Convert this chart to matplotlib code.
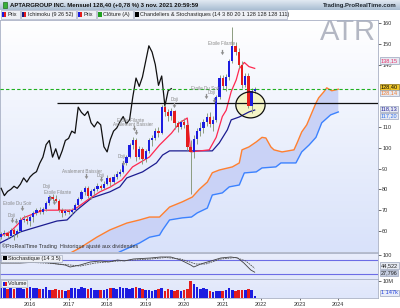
import numpy as np
import matplotlib
matplotlib.use("Agg")
import matplotlib.pyplot as plt
from matplotlib.patches import Ellipse, Rectangle
from matplotlib.colors import LinearSegmentedColormap
from matplotlib.transforms import blended_transform_factory

plt.rcParams['font.family'] = ['Liberation Sans', 'DejaVu Sans']

W, H = 400, 308

# monthly candles, Apr 2015 -> Nov 2021 (prices adjusted for dividends)
start = 2015.25
opens = [57.0, 58.5, 59.0, 57.5, 60.5, 58.5, 60.0, 65.5, 66.0,
         65.0, 66.5, 68.5, 70.0, 69.0, 70.5, 73.5, 76.5, 75.5, 74.5, 70.0, 68.5,
         69.5, 69.0, 70.0, 72.5, 75.5, 78.5, 80.5, 77.0, 79.0, 80.0, 81.5, 80.5,
         82.5, 85.5, 83.5, 86.0, 87.5, 88.5, 92.5, 95.5, 101.5, 103.5, 95.5, 99.5,
         94.5, 98.5, 103.5, 104.5, 108.0, 107.0, 119.5, 117.0, 115.5, 117.5, 112.0, 110.0,
         112.5, 111.0, 100.5, 98.0, 104.0, 108.0, 109.5, 112.5, 115.0, 111.5, 113.5, 124.5,
         133.5, 129.5, 134.0, 141.5, 149.0, 146.0, 140.0, 130.0, 134.5, 120.0, 127.4]
closes = [58.5, 59.0, 57.5, 60.5, 58.5, 60.0, 65.5, 66.0, 65.0,
          66.5, 68.5, 70.0, 69.0, 70.5, 73.5, 76.5, 75.5, 74.5, 70.0, 68.5, 69.5,
          69.0, 70.0, 72.5, 75.5, 78.5, 80.5, 77.0, 79.0, 80.0, 81.5, 80.5, 82.5,
          85.5, 83.5, 86.0, 87.5, 88.5, 92.5, 95.5, 101.5, 103.5, 95.5, 99.5, 94.5,
          98.5, 103.5, 104.5, 108.0, 107.0, 119.5, 117.0, 115.5, 117.5, 112.0, 110.0, 112.5,
          111.0, 100.5, 98.0, 104.0, 108.0, 109.5, 112.5, 115.0, 111.5, 113.5, 124.5, 133.5,
          129.5, 134.0, 141.5, 149.0, 146.0, 140.0, 130.0, 134.5, 120.0, 127.4, 128.4]
highs = [59.5, 60.5, 60.0, 61.5, 61.5, 61.0, 66.5, 67.5, 67.0,
         67.5, 69.5, 71.0, 71.5, 71.5, 74.5, 77.5, 78.0, 77.5, 75.5, 71.0, 70.5,
         70.5, 71.0, 73.5, 76.5, 79.5, 81.5, 81.5, 80.0, 81.0, 83.0, 82.5, 84.0,
         87.0, 86.0, 87.5, 89.0, 90.0, 93.5, 96.5, 102.5, 105.0, 104.5, 101.0, 100.5,
         99.5, 104.5, 106.0, 109.5, 110.0, 120.5, 121.0, 118.5, 119.0, 118.0, 113.0, 113.5,
         114.5, 112.0, 103.5, 106.0, 109.5, 112.5, 114.0, 116.5, 117.0, 115.5, 125.5, 135.0,
         135.0, 135.5, 142.5, 158.0, 151.0, 148.0, 141.5, 136.0, 136.0, 128.5, 129.0]
lows = [56.0, 57.5, 56.5, 57.0, 55.5, 57.0, 59.5, 64.5, 63.5,
        62.5, 64.5, 67.5, 68.0, 68.0, 69.5, 72.5, 74.5, 74.0, 69.0, 66.5, 67.5,
        68.0, 68.0, 69.5, 72.0, 75.0, 77.5, 76.0, 75.5, 77.5, 79.0, 79.5, 80.0,
        82.0, 81.5, 82.5, 85.0, 86.5, 88.0, 91.5, 95.0, 99.5, 93.5, 94.5, 92.0,
        93.0, 97.5, 101.0, 103.5, 105.0, 106.5, 115.5, 113.0, 113.5, 109.0, 107.5, 109.0,
        109.5, 99.0, 78.0, 95.0, 102.0, 105.5, 107.0, 110.5, 110.0, 108.0, 112.5, 123.5,
        128.0, 127.5, 132.5, 140.5, 144.5, 138.5, 128.5, 129.0, 119.0, 116.5, 126.5]
volumes = [5.8, 6.0, 5.6, 6.2, 5.4, 5.9, 6.1, 5.5, 5.7,
           6.3, 5.8, 6.0, 5.2, 5.6, 6.4, 5.0, 4.8, 5.5, 4.5, 4.9, 4.2,
           4.6, 5.9, 6.2, 5.3, 6.5, 5.8, 5.1, 6.0, 4.7, 4.8, 5.0, 4.6,
           5.1, 5.9, 6.2, 5.5, 6.3, 5.7, 6.1, 5.2, 5.8, 6.7, 5.9, 5.3,
           5.0, 4.6, 4.3, 4.9, 5.6, 6.1, 4.4, 5.2, 4.7, 3.9, 4.5, 4.2,
           5.0, 5.4, 10.3, 8.4, 6.5, 5.3, 6.0, 5.6, 4.2, 3.8, 4.3, 3.9,
           4.1, 4.6, 6.2, 4.9, 4.0, 4.5, 4.8, 4.9, 5.3, 4.7, 1.15]

# Ichimoku (9 26 52)
tenkan_t = [2015.22, 2015.48, 2015.74, 2015.82, 2016.34, 2017.09, 2017.24, 2017.5, 2017.81,
            2018.07, 2018.38, 2018.66, 2019.1, 2019.36, 2019.67, 2019.88, 2020.08, 2020.17,
            2020.65, 2020.83, 2020.99, 2021.09, 2021.22, 2021.35, 2021.43, 2021.56, 2021.68, 2021.83]
tenkan_v = [57.6, 59.5, 64.3, 66.3, 70.0, 70.0, 71.5, 75.0, 78.8,
            81.0, 84.5, 90.8, 95.6, 101.3, 107.0, 112.0, 114.3, 98.0,
            99.0, 105.0, 115.0, 118.0, 127.0, 132.6, 138.0, 141.0, 139.0, 138.15]
kijun_t = [2015.22, 2015.48, 2015.74, 2016.08, 2016.7, 2016.96, 2017.21, 2017.6, 2018.07,
           2018.33, 2018.51, 2018.92, 2019.28, 2019.44, 2019.62, 2020.73, 2020.91, 2021.12,
           2021.22, 2021.43, 2021.68, 2021.83]
kijun_v = [54.2, 56.7, 59.5, 61.4, 64.8, 65.3, 70.0, 75.9, 78.8,
           81.2, 85.5, 88.4, 92.7, 96.5, 98.5, 98.5, 102.3, 108.6,
           113.4, 114.8, 117.2, 118.13]
spanA_t = [2017.0, 2017.29, 2017.73, 2018.07, 2018.51, 2018.84, 2019.10, 2019.36, 2019.62,
           2019.95, 2020.21, 2020.39, 2020.60, 2020.73, 2020.91, 2021.25, 2021.43, 2021.50,
           2021.68, 2021.87, 2022.02, 2022.12, 2022.25, 2022.33, 2022.54, 2022.85, 2022.93,
           2023.05, 2023.18, 2023.31, 2023.42, 2023.49, 2023.62, 2023.70, 2023.83, 2024.0]
spanA_v = [49.0, 51.8, 57.0, 60.5, 63.8, 65.3, 66.7, 66.7, 71.5,
           74.0, 76.3, 80.0, 83.5, 88.0, 89.3, 90.8, 92.7, 99.0,
           100.4, 102.8, 105.0, 104.7, 100.4, 99.0, 98.0, 99.0, 102.3,
           107.6, 111.0, 116.7, 121.5, 124.0, 126.8, 128.8, 127.4, 128.14]
spanB_t = [2018.1, 2018.33, 2018.84, 2019.10, 2019.36, 2019.44, 2019.62, 2019.95, 2020.19,
           2020.34, 2020.60, 2020.73, 2020.99, 2021.17, 2021.43, 2021.56, 2021.87, 2022.02,
           2022.38, 2022.51, 2022.90, 2023.05, 2023.24, 2023.42, 2023.57, 2023.80, 2024.0]
spanB_v = [47.5, 50.0, 54.2, 57.0, 58.0, 60.5, 65.3, 66.3, 66.7,
           68.7, 71.0, 77.3, 78.3, 81.2, 82.1, 87.9, 88.4, 90.3,
           90.8, 92.7, 92.7, 98.0, 101.3, 105.0, 112.0, 115.8, 117.2]
chikou_lag = 26

# Stochastique (14 3 5)
stoch_t = [2015.22, 2015.74, 2016.3, 2016.91, 2017.04, 2017.3, 2017.56, 2017.82, 2018.05,
           2018.27, 2018.45, 2018.68, 2019.13, 2019.39, 2019.65, 2019.91, 2020.17, 2020.25,
           2020.43, 2020.69, 2020.95, 2021.21, 2021.39, 2021.55, 2021.73, 2021.83]
stoch_k = [67, 67, 72, 58.5, 50, 58.5, 71.4, 75.7, 72,
           80, 76, 84.3, 88.6, 92.9, 92.9, 80, 58.5, 50,
           62.8, 75.7, 88.6, 92.9, 88.6, 67, 37, 27.796]
stoch_dt = [2015.22, 2015.87, 2016.5, 2017.04, 2017.3, 2017.69, 2018.27, 2018.7, 2019.13,
            2019.52, 2019.91, 2020.3, 2020.56, 2020.95, 2021.34, 2021.6, 2021.83]
stoch_d = [71, 71, 66, 58.5, 54, 67, 75.7, 80, 84.3,
           90.7, 84.3, 62.8, 62.8, 84.3, 90.7, 75.7, 44.522]

# candle patterns: (label, x, y) and arrows (x, y)
pattern_txt = [("Etoile Filante", 2020.98, 149.9), ("Etoile Du Soir", 2020.54, 128.7),
               ("Doji", 2020.72, 126.6), ("Doji", 2019.75, 123.0),
               ("Etoile Filante", 2018.61, 113.3), ("Avalement Baissier", 2018.66, 111.4),
               ("Avalement Baissier", 2017.36, 88.8), ("Doji", 2017.83, 86.9),
               ("Doji", 2018.37, 95.6), ("Doji", 2016.42, 81.2), ("Etoile Filante", 2016.71, 78.3),
               ("Etoile Du Soir", 2015.66, 73.0), ("Doji", 2015.53, 67.4)]
arrow_x = [2020.98, 2020.56, 2020.77, 2019.73, 2018.69, 2018.74, 2017.46, 2017.85,
           2018.40, 2016.52, 2016.63, 2015.79, 2015.53, 2015.64]
arrow_y = [146.0, 124.9, 123.0, 120.5, 109.5, 107.6, 86.4, 85.0,
           92.7, 75.9, 74.0, 71.0, 65.3, 64.8]

years = [2016, 2017, 2018, 2019, 2020, 2021, 2022, 2023, 2024]
last_close = 128.40
support = 121.5

BLUE = '#1c1ce0'
RED = '#e41c1c'
WICK = '#8c9c80'
XLIM = (2015.22, 2025.03)


def frac(x0, y0, x1, y1):
    return [x0 / W, 1 - y1 / H, (x1 - x0) / W, (y1 - y0) / H]


def gradient(ax, top, bottom):
    cm = LinearSegmentedColormap.from_list('g', [top, bottom])
    ax.imshow(np.linspace(0, 1, 64).reshape(-1, 1), cmap=cm, aspect='auto',
              extent=[0, 1, 0, 1], transform=ax.transAxes, zorder=0)


def fig_rect(x0, y0, x1, y1, fc, ec='none', lw=0.5):
    fig.patches.append(Rectangle((x0 / W, 1 - y1 / H), (x1 - x0) / W, (y1 - y0) / H,
                                 transform=fig.transFigure, fc=fc, ec=ec, lw=lw))


def fig_text(x, y, s, **kw):
    fig.text(x / W, 1 - y / H, s, va='center', **kw)


def value_box(ax, y, s, color, fc='#e6eaf2', ec='#9aa4bc', weight='normal'):
    tr = blended_transform_factory(ax.transAxes, ax.transData)
    ax.text(1.008, y, s, transform=tr, fontsize=4, color=color, va='center', ha='left',
            weight=weight, clip_on=False, zorder=6,
            bbox=dict(boxstyle='square,pad=0.12', fc=fc, ec=ec, lw=0.5))


fig = plt.figure(figsize=(W / 100, H / 100), dpi=100)

# header
ax_head = fig.add_axes(frac(0, 0, 400, 10))
gradient(ax_head, '#e2eaf2', '#a9bdd2')
ax_head.set_axis_off()
fig_rect(3, 2, 7, 8, '#38b038', '#207020')
fig_text(10, 5, "APTARGROUP INC. Mensuel 128,40 (+0,78 %) 3 nov. 2021 20:59:59",
         fontsize=4.3, weight='bold', color='#101010')
fig_text(397, 5, "Trading.ProRealTime.com", fontsize=4.3, weight='bold', color='#202830',
         ha='right')

# legend row
legend_items = [(0, 20, "Prix", (BLUE, RED)), (20, 76, "Ichimoku (9 26 52)", ('#1a1a80', RED)),
                (76, 96, "Prix", (BLUE, RED)), (96, 133, "Clôture (A)", ('#20a020', '#20a020')),
                (133, 287, "Chandeliers & Stochastiques (14 3 80 20 1 128 128 128 111)",
                 ('#000000', '#000000'))]
for x0, x1, label, icon in legend_items:
    fig_rect(x0 + 0.5, 10.5, x1 - 0.5, 18.5, '#eef0f5', '#aab2c4')
    fig_rect(x0 + 2, 12, x0 + 4, 17, icon[0])
    fig_rect(x0 + 4, 12, x0 + 6, 17, icon[1])
    fig_text(x0 + 7.5, 14.7, label, fontsize=4, color='#202020')

# main panel
ax = fig.add_axes(frac(0, 20, 378, 252))
gradient(ax, '#ffffff', '#d9e2fa')

t = start + np.arange(len(closes)) / 12
o = np.array(opens)
c = np.array(closes)
up = c >= o
cols = np.where(up, BLUE, RED)

# kumo
ax.fill(np.concatenate([spanA_t, spanB_t[::-1]]), np.concatenate([spanA_v, spanB_v[::-1]]),
        color='#c9d2f6', lw=0, zorder=1)
ax.plot(spanA_t, spanA_v, color='#ff8030', lw=1.0, zorder=2)
ax.plot(spanB_t, spanB_v, color='#3c82ff', lw=1.0, zorder=2)

ax.add_patch(Ellipse((2021.72, 120.6), 0.76, 12.5, fc='#f4f4c6', ec='none', zorder=1.5))

ax.plot(t[:-chikou_lag], closes[chikou_lag:], color='#101010', lw=0.9, zorder=3)
ax.plot(kijun_t, kijun_v, color='#1c1c90', lw=0.9, zorder=3)
ax.plot(tenkan_t, tenkan_v, color='#ff2850', lw=0.9, zorder=3)

ax.vlines(t, lows, highs, color=WICK, lw=0.7, zorder=4)
ax.bar(t, np.maximum(np.abs(c - o), 0.4), bottom=np.minimum(o, c), width=0.058,
       color=cols, lw=0, zorder=5)

ax.axhline(last_close, color='#20b020', lw=0.8, ls=(0, (3, 2)), zorder=4)
ax.hlines(support, 2016.7, XLIM[1], color='#101010', lw=0.9, zorder=4)
ax.add_patch(Ellipse((2021.72, 120.6), 0.76, 12.5, fc='none', ec='#101010', lw=0.9, zorder=6))

for label, x, y in pattern_txt:
    ax.text(x, y, label, fontsize=3.3, color='#8a8a8a', ha='center', va='center', zorder=6)
arrow = [(-0.25, 1), (0.25, 1), (0.25, 0.1), (0.7, 0.1), (0, -1), (-0.7, 0.1), (-0.25, 0.1)]
ax.scatter(arrow_x, arrow_y, marker=arrow, s=14, color='#8e8e8e', lw=0, zorder=6)

ax.text(0.995, 0.914, "ATR", transform=ax.transAxes, fontsize=21, color='#b3b7c3',
        ha='right', va='baseline', zorder=1, clip_on=False)
ax.text(0.006, 0.012, "©ProRealTime Trading  Historique ajusté aux dividendes",
        transform=ax.transAxes, fontsize=3.9, color='#303030', va='bottom', zorder=6)

ax.set_xlim(*XLIM)
ax.set_ylim(49.9, 161.4)
ax.set_xticks([])
ax.yaxis.tick_right()
ax.set_yticks([60, 70, 80, 90, 100, 110, 140, 150, 160])
ax.tick_params(axis='y', labelsize=4, length=2, width=0.5, pad=1, colors='#303030')
for s in ax.spines.values():
    s.set_color('#a8b0c4')
    s.set_linewidth(0.6)

value_box(ax, 141.9, "138,15", '#e8306a')
value_box(ax, 129.2, "128,40", '#000000', fc='#f2c82a', ec='#8a7010')
value_box(ax, 126.2, "128,14", '#f07a30')
value_box(ax, 118.6, "118,13", '#22229a')
value_box(ax, 115.2, "117,20", '#2f6fea')

# stochastic panel
ax_s = fig.add_axes(frac(0, 253, 378, 279))
gradient(ax_s, '#e9edfb', '#e2e8fb')
ax_s.axhline(80, color='#6c6ce6', lw=0.8)
ax_s.axhline(20, color='#6c6ce6', lw=0.8)
ax_s.plot(stoch_t, stoch_k, color='#404040', lw=0.6)
ax_s.plot(stoch_dt, stoch_d, color='#505050', lw=0.6, ls=(0, (2, 1)))
ax_s.set_xlim(*XLIM)
ax_s.set_ylim(-1.4, 110)
ax_s.set_xticks([])
ax_s.yaxis.tick_right()
ax_s.set_yticks([100])
ax_s.tick_params(axis='y', labelsize=4, length=2, width=0.5, pad=1, colors='#303030')
for s in ax_s.spines.values():
    s.set_color('#a8b0c4')
    s.set_linewidth(0.6)
value_box(ax_s, 56, "44,522", '#202020')
value_box(ax_s, 24, "27,796", '#202020', fc='#c4cce0')
ax_s.text(0.006, 0.80, "    Stochastique (14 3 5)", transform=ax_s.transAxes, fontsize=4,
          color='#202020', va='center',
          bbox=dict(boxstyle='square,pad=0.15', fc='#eef0f5', ec='#aab2c4', lw=0.5))
fig_rect(3, 255.5, 7, 260, '#000000')

# volume panel
ax_v = fig.add_axes(frac(0, 279, 378, 298))
gradient(ax_v, '#e6ebfb', '#dfe6fb')
ax_v.bar(t, volumes, width=0.068, color=cols, lw=0)
ax_v.set_xlim(*XLIM)
ax_v.set_ylim(0, 11.3)
ax_v.yaxis.tick_right()
ax_v.set_yticks([10])
ax_v.set_yticklabels(["10M"])
ax_v.tick_params(axis='y', labelsize=4, length=2, width=0.5, pad=1, colors='#303030')
ax_v.set_xticks(years)
ax_v.set_xticklabels([str(y) for y in years])
ax_v.tick_params(axis='x', labelsize=4, length=1.5, width=0.5, pad=1.5, colors='#303030')
for s in ax_v.spines.values():
    s.set_color('#a8b0c4')
    s.set_linewidth(0.6)
value_box(ax_v, 3.0, "1 147k", '#2040e0', fc='#e8ecf8')
ax_v.text(0.006, 0.78, "    Volume", transform=ax_v.transAxes, fontsize=4,
          color='#202020', va='center',
          bbox=dict(boxstyle='square,pad=0.15', fc='#eef0f5', ec='#aab2c4', lw=0.5))
fig_rect(3, 281.5, 5, 286, BLUE)
fig_rect(5, 281.5, 7, 286, RED)

fig.savefig("out.png", dpi=100)
